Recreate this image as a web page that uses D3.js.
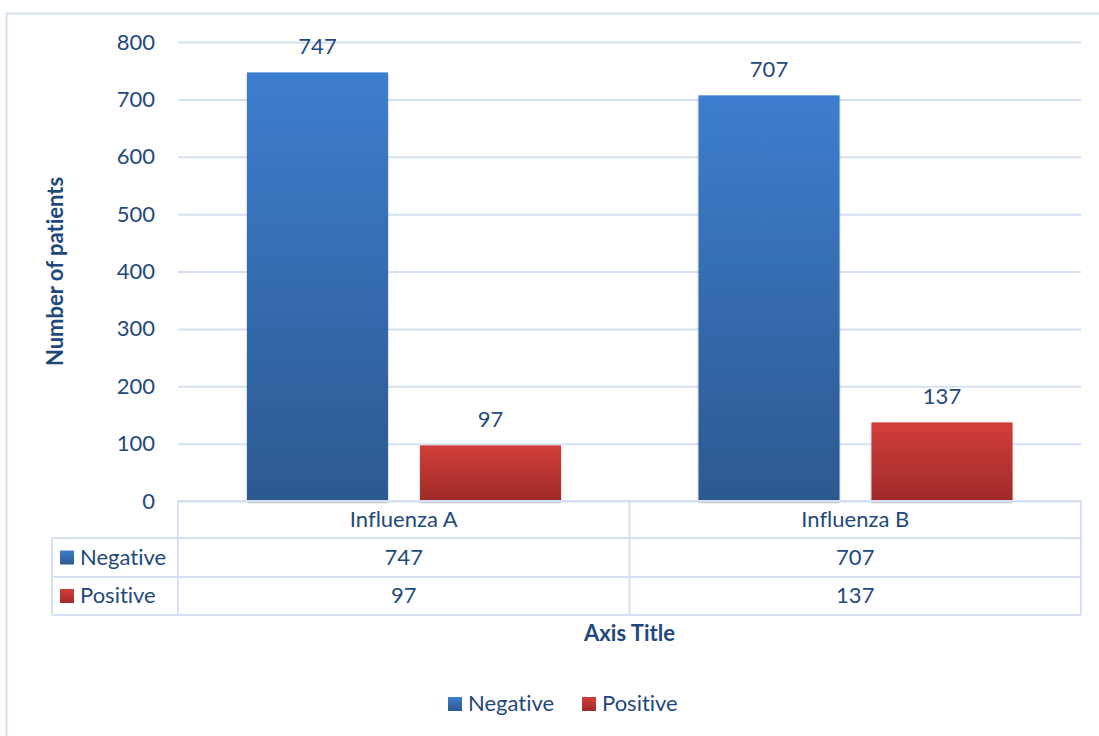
<!DOCTYPE html>
<html><head><meta charset="utf-8">
<script src="https://cdn.jsdelivr.net/npm/d3@7/dist/d3.min.js"></script>
<style>body{margin:0;background:#fff}svg{display:block}text{font-family:Lato,"Open Sans",sans-serif;fill:#1f497d;font-variant-ligatures:none;font-feature-settings:"liga" 0,"dlig" 0}</style>
</head><body><svg id="c" width="1099" height="736"></svg>
<script>
const categories = ["Influenza A", "Influenza B"];
const seriesNames = ["Negative", "Positive"];
const negative = [747, 707];
const positive = [97, 137];
const yTicks = [0, 100, 200, 300, 400, 500, 600, 700, 800];

const svg = d3.select("#c");
const gridC = "#d5e1f2";
const fs = 22;
const m = {l:178, r:1081, t:42, b:501};
const x0 = d3.scaleBand().domain(categories).range([m.l, m.r]).paddingInner(0).paddingOuter(0);
const x1 = d3.scaleBand().domain(seriesNames).range([69, 69+314]).paddingInner(32/173).paddingOuter(0);
const y = d3.scaleLinear().domain([0, 800]).range([m.b, m.t]);

const defs = svg.append("defs");
const grads = [["gNeg","#3d7ece","#2c5990"],["gPos","#d23e3b","#9f2a28"]];
grads.forEach(([id,a,b])=>{
  const g = defs.append("linearGradient").attr("id",id).attr("x1",0).attr("y1",0).attr("x2",0).attr("y2",1);
  g.append("stop").attr("offset","0%").attr("stop-color",a);
  g.append("stop").attr("offset","100%").attr("stop-color",b);
});
const sh = defs.append("filter").attr("id","sh").attr("x","-10%").attr("y","-10%").attr("width","120%").attr("height","130%");
sh.append("feDropShadow").attr("dx",0).attr("dy",1.5).attr("stdDeviation",1.2).attr("flood-color","#000").attr("flood-opacity",0.3);
const colors = {Negative:"url(#gNeg)", Positive:"url(#gPos)"};

// outer border
svg.append("rect").attr("x",6.5).attr("y",13.5).attr("width",1110).attr("height",740)
  .attr("fill","none").attr("stroke",gridC).attr("stroke-width",2);

// gridlines
const yAxis = d3.axisLeft(y).tickValues(yTicks).tickSize(-(m.r-m.l)).tickPadding(23);
const ga = svg.append("g").attr("transform",`translate(${m.l},0)`).call(yAxis);
ga.select(".domain").remove();
ga.selectAll(".tick line").attr("stroke",gridC).attr("stroke-width",2);
ga.selectAll(".tick text").attr("font-size",fs).attr("fill","#1f497d").style("font-family","Lato");

// bars
const data = categories.map((c,i)=>({cat:c, vals:[{k:"Negative",v:negative[i]},{k:"Positive",v:positive[i]}]}));
const grp = svg.selectAll("g.cat").data(data).join("g").attr("class","cat")
  .attr("transform",d=>`translate(${x0(d.cat)},0)`);
grp.selectAll("rect").data(d=>d.vals).join("rect")
  .attr("x",d=>x1(d.k)).attr("width",x1.bandwidth())
  .attr("y",d=>y(d.v)).attr("height",d=>y(0)-y(d.v))
  .attr("fill",d=>colors[d.k]).attr("filter","url(#sh)");
grp.selectAll("text.lbl").data(d=>d.vals).join("text").attr("class","lbl")
  .attr("x",d=>x1(d.k)+x1.bandwidth()/2).attr("y",d=>y(d.v)-18)
  .attr("text-anchor","middle").attr("font-size",fs).text(d=>d.v);

// data table
const rows = [m.b, 538, 577, 615];
const tLeft = 52;
const tl = svg.append("g").attr("stroke",gridC).attr("stroke-width",2).attr("fill","none");
tl.append("line").attr("x1",m.l).attr("x2",m.r).attr("y1",rows[0]).attr("y2",rows[0]);
[1,2,3].forEach(i=>tl.append("line").attr("x1",tLeft).attr("x2",m.r).attr("y1",rows[i]).attr("y2",rows[i]));
tl.append("line").attr("x1",m.l).attr("x2",m.l).attr("y1",rows[0]).attr("y2",rows[3]);
tl.append("line").attr("x1",tLeft).attr("x2",tLeft).attr("y1",rows[1]).attr("y2",rows[3]);
categories.forEach(c=>{
  tl.append("line").attr("x1",x0(c)+x0.bandwidth()).attr("x2",x0(c)+x0.bandwidth()).attr("y1",rows[0]).attr("y2",rows[3]);
});
categories.forEach(c=>{
  svg.append("text").attr("x",x0(c)+x0.bandwidth()/2).attr("y",(rows[0]+rows[1])/2+7)
    .attr("text-anchor","middle").attr("font-size",fs).text(c);
});
const rowVals = [negative, positive];
seriesNames.forEach((s,ri)=>{
  const cy = (rows[ri+1]+rows[ri+2])/2;
  svg.append("rect").attr("x",60).attr("y",cy-7).attr("width",14).attr("height",14).attr("fill",colors[s]);
  svg.append("text").attr("x",80).attr("y",cy+7).attr("font-size",fs).text(s);
  categories.forEach((c,ci)=>{
    svg.append("text").attr("x",x0(c)+x0.bandwidth()/2).attr("y",cy+7)
      .attr("text-anchor","middle").attr("font-size",fs).text(rowVals[ri][ci]);
  });
});

// axis titles
svg.append("text").attr("x",(m.l+m.r)/2).attr("y",641).attr("text-anchor","middle")
  .attr("font-size",fs).attr("font-weight","bold").text("Axis Title");
svg.append("text").attr("transform",`translate(63,${(m.t+m.b)/2}) rotate(-90)`).attr("text-anchor","middle")
  .attr("font-size",fs).attr("font-weight","bold").text("Number of patients");

// legend
const legX = [448, 582];
seriesNames.forEach((s,i)=>{
  svg.append("rect").attr("x",legX[i]).attr("y",697).attr("width",14).attr("height",14).attr("fill",colors[s]);
  svg.append("text").attr("x",legX[i]+20).attr("y",711).attr("font-size",fs).text(s);
});
</script></body></html>
